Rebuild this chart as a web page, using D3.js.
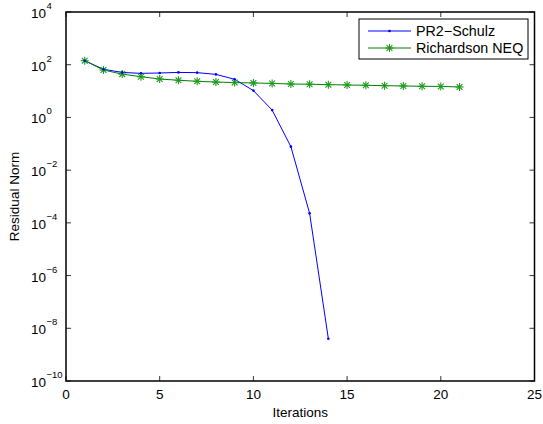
<!DOCTYPE html>
<html><head><meta charset="utf-8">
<script src="https://cdn.jsdelivr.net/npm/d3@7"></script>
<style>body{margin:0;background:#fff}svg{display:block}text{font-family:"Liberation Sans",Arial,sans-serif}</style>
</head><body>
<svg id="c" width="543" height="424"></svg>
<script>
const iterPR2 = [1,2,3,4,5,6,7,8,9,10,11,12,13,14];
const valPR2 = [142,67,51,47,48.5,51,50,43,28,10.4,1.9,0.078,2.3e-4,4e-9];
const iterRich = [1,2,3,4,5,6,7,8,9,10,11,12,13,14,15,16,17,18,19,20,21];
const valRich = [142,63,44,35,28.7,25.7,23.5,22,21,20.3,19.5,18.5,18.2,17.5,17,16.6,16,15.6,15.2,15,14.3];
const xTicks = [0,5,10,15,20,25];
const yTickExp = [-10,-8,-6,-4,-2,0,2,4];
const seriesNames = ["PR2\u2212Schulz","Richardson NEQ"];

const svg = d3.select("#c");
const L=66,R=534.5,T=12,B=381;
const x = d3.scaleLinear().domain([0,25]).range([L,R]);
const y = d3.scaleLog().domain([1e-10,1e4]).range([B,T]);
const tl=5;
const fs=13.5;

// ticks
const g = svg.append("g").attr("stroke","#000").attr("stroke-width",0.8);
xTicks.forEach(t=>{
  g.append("line").attr("x1",x(t)).attr("x2",x(t)).attr("y1",B).attr("y2",B-tl);
  g.append("line").attr("x1",x(t)).attr("x2",x(t)).attr("y1",T).attr("y2",T+tl);
});
yTickExp.forEach(e=>{
  const v=Math.pow(10,e);
  g.append("line").attr("x1",L).attr("x2",L+tl).attr("y1",y(v)).attr("y2",y(v));
  g.append("line").attr("x1",R).attr("x2",R-tl).attr("y1",y(v)).attr("y2",y(v));
});
// labels
xTicks.forEach(t=>{
  svg.append("text").attr("x",x(t)).attr("y",399).attr("text-anchor","middle")
    .attr("font-size",fs).text(t);
});
yTickExp.forEach(e=>{
  const v=Math.pow(10,e);
  svg.append("text").attr("x",46).attr("y",y(v)+6).attr("text-anchor","end").attr("font-size",fs).text("10");
  const sup = (e<0?"\u2212"+(-e):String(e));
  svg.append("text").attr("x",46.5).attr("y",y(v)-3).attr("font-size",9.5).text(sup);
});
svg.append("text").attr("x",(L+R)/2).attr("y",417).attr("text-anchor","middle").attr("font-size",fs).text("Iterations");
svg.append("text").attr("transform",`translate(19,${(T+B)/2}) rotate(-90)`).attr("text-anchor","middle").attr("font-size",fs).text("Residual Norm");

// lines
const line = d3.line().x(d=>x(d[0])).y(d=>y(d[1]));
const pr2 = iterPR2.map((d,i)=>[d,valPR2[i]]);
const rich = iterRich.map((d,i)=>[d,valRich[i]]);
const blue="#0000ff", green="#008000";
svg.append("path").attr("d",line(pr2)).attr("fill","none").attr("stroke",blue).attr("stroke-width",1);
svg.append("path").attr("d",line(rich)).attr("fill","none").attr("stroke",green).attr("stroke-width",1);

function star(sel,cx,cy,s){
  const gg=sel.append("g").attr("stroke","#1a9a1a").attr("stroke-width",1.1);
  gg.append("line").attr("x1",cx-s).attr("x2",cx+s).attr("y1",cy).attr("y2",cy);
  gg.append("line").attr("x1",cx).attr("x2",cx).attr("y1",cy-s).attr("y2",cy+s);
  const d=s*0.72;
  gg.append("line").attr("x1",cx-d).attr("x2",cx+d).attr("y1",cy-d).attr("y2",cy+d);
  gg.append("line").attr("x1",cx-d).attr("x2",cx+d).attr("y1",cy+d).attr("y2",cy-d);
}
rich.forEach(d=>star(svg,x(d[0]),y(d[1]),4));
svg.selectAll("circle.p").data(pr2).enter().append("circle").attr("class","p")
  .attr("cx",d=>x(d[0])).attr("cy",d=>y(d[1])).attr("r",1.3).attr("fill",blue);

// axes box
svg.append("rect").attr("x",L).attr("y",T).attr("width",R-L).attr("height",B-T)
  .attr("fill","none").attr("stroke","#000").attr("stroke-width",1.5);

// legend
const lg=svg.append("g");
lg.append("rect").attr("x",359).attr("y",19).attr("width",169).attr("height",40)
  .attr("fill","#fff").attr("stroke","#000").attr("stroke-width",1);
lg.append("line").attr("x1",368).attr("x2",411).attr("y1",31).attr("y2",31).attr("stroke",blue).attr("stroke-width",1);
lg.append("circle").attr("cx",389.5).attr("cy",31).attr("r",1.3).attr("fill",blue);
lg.append("line").attr("x1",368).attr("x2",411).attr("y1",48).attr("y2",48).attr("stroke",green).attr("stroke-width",1);
star(lg,389.5,48,4);
lg.append("text").attr("x",416).attr("y",36).attr("font-size",14.3).text(seriesNames[0]);
lg.append("text").attr("x",416).attr("y",53).attr("font-size",14.3).text(seriesNames[1]);
</script>
</body></html>
